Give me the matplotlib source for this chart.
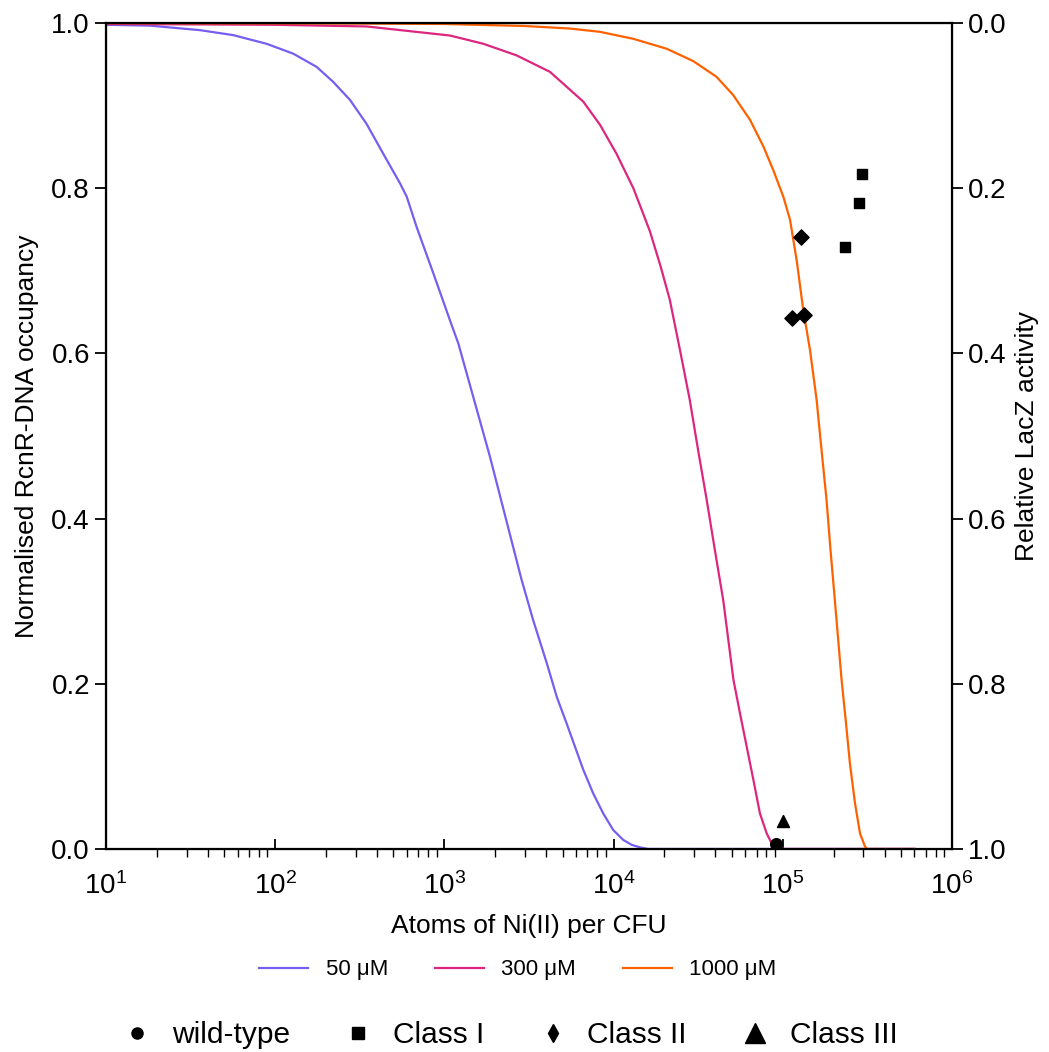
import numpy as np
import matplotlib
matplotlib.use("Agg")
import matplotlib.pyplot as plt
from matplotlib.lines import Line2D

plt.rcParams['font.family'] = ['Liberation Sans', 'DejaVu Sans']

# curves (atoms of Ni per CFU, normalised occupancy)
x_50 = [10, 18.2, 36, 56.5, 89, 128, 176, 220, 277, 347, 435, 547, 599, 686, 861, 1080, 1210,
        1860, 2860, 3350, 4030, 4620, 5280, 6620, 7590, 8690, 9950, 11400, 12800, 14300, 16000, 600000]
y_50 = [0.998, 0.997, 0.9915, 0.9855, 0.975, 0.963, 0.947, 0.929, 0.907, 0.878, 0.842, 0.806, 0.790, 0.753, 0.697, 0.640, 0.612,
        0.475, 0.326, 0.277, 0.225, 0.184, 0.152, 0.096, 0.067, 0.043, 0.023, 0.011, 0.005, 0.002, 0.0, 0.0]

x_300 = [10, 100, 347, 1080, 1700, 2670, 4210, 6620, 8310, 10400, 13100, 16400, 19000, 21500, 24700, 28200,
         31600, 35500, 39700, 44500, 51100, 55900, 61200, 67000, 73300, 80300, 85900, 90000, 600000]
y_300 = [0.999, 0.998, 0.996, 0.985, 0.975, 0.961, 0.941, 0.905, 0.877, 0.842, 0.800, 0.748, 0.705, 0.665, 0.604, 0.544,
         0.483, 0.423, 0.362, 0.301, 0.205, 0.164, 0.124, 0.084, 0.043, 0.019, 0.007, 0.0, 0.0]

x_1000 = [10, 300, 1000, 3000, 5500, 8300, 13100, 20600, 29600, 40600, 50900, 64000, 76700, 87900, 100700,
          110400, 120800, 132100, 144900, 158500, 169500, 181400, 191500, 203200, 222600, 236300, 249300,
          267000, 286000, 306000, 315000, 600000]
y_1000 = [1.0, 0.9995, 0.999, 0.9965, 0.9935, 0.9895, 0.981, 0.969, 0.954, 0.935, 0.913, 0.883, 0.851, 0.822, 0.790,
          0.762, 0.713, 0.653, 0.604, 0.544, 0.483, 0.423, 0.362, 0.301, 0.205, 0.153, 0.104,
          0.056, 0.019, 0.003, 0.0, 0.0]

# LacZ activity points (right axis)
wt_x, wt_y = [91000], [0.994]
c1_x, c1_y = [295000, 283000, 232000], [0.183, 0.218, 0.271]
c2_x, c2_y = [128000, 113000, 133000], [0.259, 0.357, 0.354]
c3_x, c3_y = [100000], [0.966]

fig = plt.figure(figsize=(10.49, 10.52), dpi=100)
ax = fig.add_axes([0.101, 0.193, 0.8065, 0.785])

ax.plot(x_50, y_50, color='#785EF0', lw=1.6, label='50 μM')
ax.plot(x_300, y_300, color='#DC267F', lw=1.6, label='300 μM')
ax.plot(x_1000, y_1000, color='#FE6100', lw=1.6, label='1000 μM')

ax.set_xscale('log')
ax.set_xlim(10, 1e6)
ax.set_ylim(0, 1)
ax.set_yticks([0, 0.2, 0.4, 0.6, 0.8, 1.0])
ax.set_xlabel('Atoms of Ni(II) per CFU', fontsize=19, labelpad=10)
ax.set_ylabel('Normalised RcnR-DNA occupancy', fontsize=19, labelpad=9)
ax.tick_params(axis='y', labelsize=20, direction='out', length=8, width=1.3)
ax.tick_params(axis='x', which='major', labelsize=20, direction='in', length=7, width=1.3, pad=17)
ax.tick_params(axis='x', which='minor', direction='out', length=6, width=1)
for s in ax.spines.values():
    s.set_linewidth(1.6)

ax2 = ax.twinx()
ax2.set_ylim(1, 0)
ax2.set_yticks([0, 0.2, 0.4, 0.6, 0.8, 1.0])
ax2.tick_params(axis='y', labelsize=20, direction='out', length=8, width=1.3)
ax2.set_ylabel('Relative LacZ activity', fontsize=19, labelpad=6)

ax2.scatter(wt_x, wt_y, marker='o', s=70, color='black', zorder=5)
ax2.scatter(c1_x, c1_y, marker='s', s=60, color='black', zorder=5)
ax2.scatter(c2_x, c2_y, marker='D', s=60, color='black', zorder=5)
ax2.scatter(c3_x, c3_y, marker='^', s=75, color='black', zorder=5)

fig.legend(*ax.get_legend_handles_labels(), loc='center', bbox_to_anchor=(0.4936, 0.078),
           ncol=3, frameon=False, fontsize=16, handlelength=2.2, columnspacing=2.1, handletextpad=0.8)

handles = [Line2D([], [], marker='o', ls='', color='black', markersize=8),
           Line2D([], [], marker='s', ls='', color='black', markersize=8),
           Line2D([], [], marker='d', ls='', color='black', markersize=9),
           Line2D([], [], marker='^', ls='', color='black', markersize=14)]
fig.legend(handles, ['wild-type', 'Class I', 'Class II', 'Class III'], loc='center',
           bbox_to_anchor=(0.486, 0.016), ncol=4, frameon=False, fontsize=21.5,
           handlelength=1.0, handletextpad=0.65, columnspacing=1.8)

fig.savefig('out.png', dpi=100)
